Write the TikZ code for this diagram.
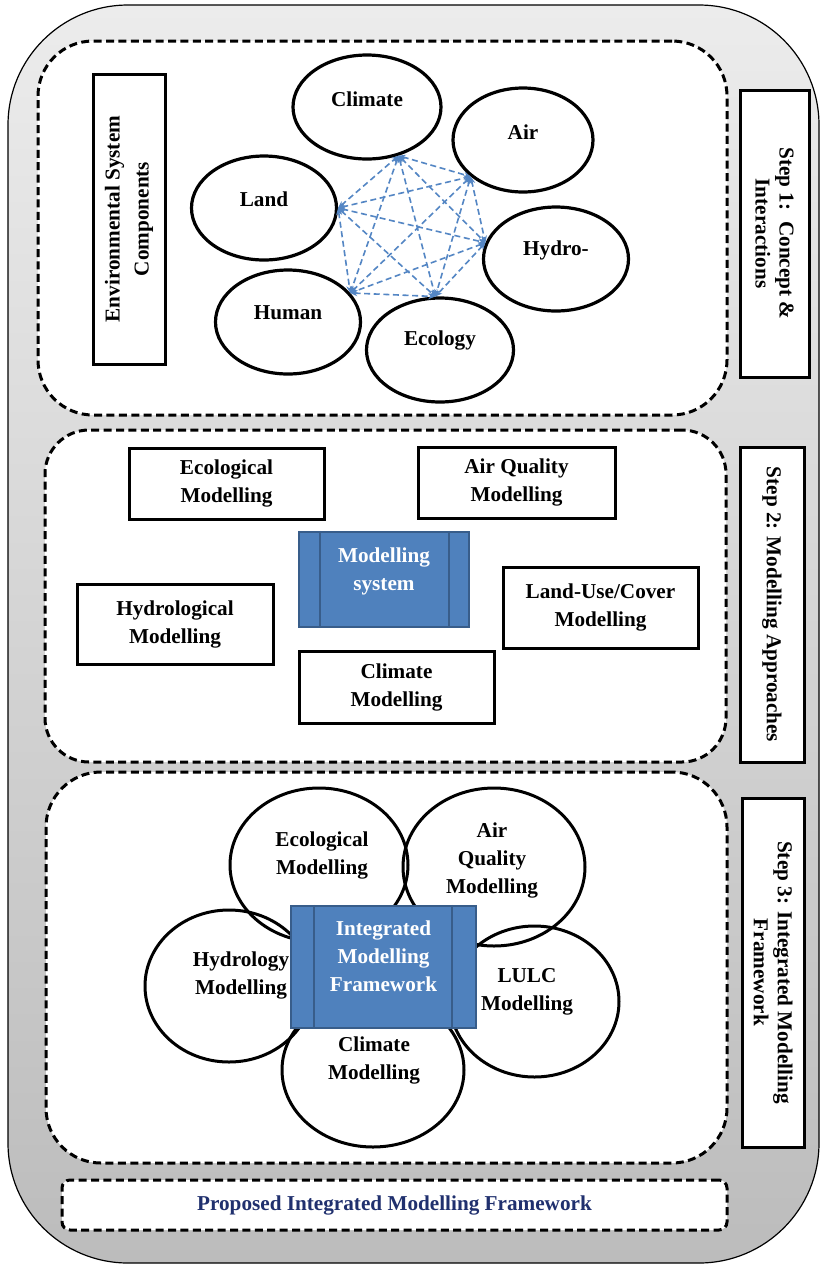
\documentclass[tikz,border=0pt]{standalone}
\usepackage{fontspec}
\setmainfont{Liberation Serif}
\usetikzlibrary{shapes.geometric,arrows.meta}
\definecolor{bluefill}{RGB}{79,129,189}
\definecolor{bluedark}{RGB}{56,93,138}
\definecolor{linkblue}{RGB}{84,134,196}
\definecolor{navy}{RGB}{32,48,110}
\definecolor{graytop}{RGB}{236,236,236}
\definecolor{graybot}{RGB}{188,188,188}
\begin{document}
\begin{tikzpicture}[x=0.5pt,y=-0.5pt,
  lbl/.style={font=\bfseries\fontsize{10.6}{14}\selectfont, align=center, inner sep=0pt},
  sbox/.style={draw, line width=1.5pt, fill=white, inner sep=0pt},
  dbox/.style={draw, line width=1.5pt, dash pattern=on 4pt off 2.2pt, fill=white, inner sep=0pt},
  envell/.style={ellipse, draw, line width=1.6pt, fill=white, minimum width=72.5pt, minimum height=52pt, inner sep=0pt},
  flower/.style={ellipse, draw, line width=1.5pt, inner sep=0pt},
  bluebox/.style={draw=bluedark, line width=1.2pt, fill=bluefill, inner sep=0pt},
  blueline/.style={draw=bluedark, line width=1.2pt},
  bluetxt/.style={lbl, text=white},
  link/.style={draw=linkblue, line width=0.8pt, dash pattern=on 3pt off 1.8pt, <->, >={Stealth[length=3.5pt,width=3pt]}},
  steplbl/.style={sbox, rotate=-90, font=\bfseries\fontsize{10.6}{12}\selectfont, align=center}
]
\useasboundingbox (0,0) rectangle (820,1266);
% outer container
\draw[line width=0.6pt, top color=graytop, bottom color=graybot, rounded corners=60pt] (8,5) rectangle (819,1263);

% dashed step containers
\node[dbox, rounded corners=27.5pt, minimum width=344.5pt, minimum height=187pt] (s1box) at (382.5,228) {};
\node[dbox, rounded corners=22pt, minimum width=340.5pt, minimum height=166pt] (s2box) at (385.5,596) {};
\node[dbox, rounded corners=27.5pt, minimum width=340.5pt, minimum height=195.5pt] (s3box) at (386.5,967.5) {};
\node[dbox, rounded corners=4pt, minimum width=332.5pt, minimum height=25pt, lbl, text=navy] (title) at (394.5,1205) {Proposed Integrated Modelling Framework};

% step labels
\node[steplbl, minimum width=143.5pt, minimum height=34.5pt] (step1) at (774.5,233.5) {Step 1:~~Concept \&\\Interactions};
\node[steplbl, minimum width=157.5pt, minimum height=32pt] (step2) at (772,604.5) {Step 2: Modelling Approaches};
\node[steplbl, minimum width=174.5pt, minimum height=31pt] (step3) at (773,972.5) {Step 3: Integrated Modelling\\Framework};

% ---- Step 1
\node[sbox, rotate=90, minimum width=145pt, minimum height=36pt, font=\bfseries\fontsize{10.6}{14.5}\selectfont, align=center] (env) at (129,219) {Environmental System\\Components};

\node[envell, minimum width=74pt] (clim) at (367,107) {};
\node[envell, minimum width=70pt] (air) at (523,140) {};
\node[envell] (land) at (264,208) {};
\node[envell] (hydro) at (556,259) {};
\node[envell] (human) at (288,322) {};
\node[envell, minimum width=73.5pt] (eco) at (440,350) {};
\node[lbl] (t-clim) at (367,99) {Climate};
\node[lbl] (t-air) at (523,132) {Air};
\node[lbl] (t-land) at (264,199) {Land};
\node[lbl] (t-hydro) at (556,250) {Hydro-};
\node[lbl] (t-human) at (288,313) {Human};
\node[lbl] (t-eco) at (440,340) {Ecology};

\coordinate (vc) at (clim.-57);
\coordinate (va) at (air.215);
\coordinate (vl) at (land.east);
\coordinate (vh) at (hydro.167);
\coordinate (vu) at (human.25);
\coordinate (ve) at (eco.95);
\foreach \p/\q in {vl/vc, vl/va, vl/vh, vl/vu, vl/ve, vc/va, vc/vh, vc/vu, vc/ve, va/vh, va/vu, va/ve, vh/vu, vh/ve, vu/ve}
  \draw[link] (\p) -- (\q);

% ---- Step 2
\node[sbox, lbl, minimum width=97.5pt, minimum height=35.5pt] (m-eco) at (226.5,483.5) {Ecological\\Modelling};
\node[sbox, lbl, minimum width=98.5pt, minimum height=35.5pt] (m-air) at (516.5,482.5) {Air Quality\\Modelling};
\node[sbox, lbl, minimum width=98pt, minimum height=40pt] (m-hyd) at (175,624) {Hydrological\\Modelling};
\node[sbox, lbl, minimum width=97.5pt, minimum height=40.5pt] (m-lulc) at (600.5,607.5) {Land-Use/Cover\\Modelling};
\node[sbox, lbl, minimum width=97.5pt, minimum height=36pt] (m-clim) at (396.5,687) {Climate\\Modelling};
\node[bluebox, minimum width=85pt, minimum height=47.5pt] (msys) at (384,579.5) {};
\draw[blueline] ([xshift=11pt]msys.north west) -- ([xshift=11pt]msys.south west);
\draw[blueline] ([xshift=-10.5pt]msys.north east) -- ([xshift=-10.5pt]msys.south east);
\node[bluetxt] (t-msys) at (384,571) {Modelling\\system};

% ---- Step 3
\node[flower, minimum width=89pt, minimum height=77pt] (f-eco) at (319,865) {};
\node[flower, minimum width=91pt, minimum height=79pt] (f-air) at (494,867) {};
\node[flower, minimum width=84pt, minimum height=76pt] (f-hyd) at (229,986) {};
\node[flower, minimum width=84.5pt, minimum height=75.5pt] (f-lulc) at (534.5,1001.5) {};
\node[flower, minimum width=91pt, minimum height=77pt] (f-clim) at (373,1070) {};
\node[lbl] (t-feco) at (322,855) {Ecological\\Modelling};
\node[lbl] (t-fair) at (492,860) {Air\\Quality\\Modelling};
\node[lbl] (t-fhyd) at (241,975.5) {Hydrology\\Modelling};
\node[lbl] (t-flulc) at (527,991.5) {LULC\\Modelling};
\node[lbl] (t-fclim) at (374,1060) {Climate\\Modelling};
\node[bluebox, minimum width=92.5pt, minimum height=61pt] (imf) at (383.5,967) {};
\draw[blueline] ([xshift=12pt]imf.north west) -- ([xshift=12pt]imf.south west);
\draw[blueline] ([xshift=-12.5pt]imf.north east) -- ([xshift=-12.5pt]imf.south east);
\node[bluetxt] (t-imf) at (383.5,956) {Integrated\\Modelling\\Framework};
\end{tikzpicture}
\end{document}
